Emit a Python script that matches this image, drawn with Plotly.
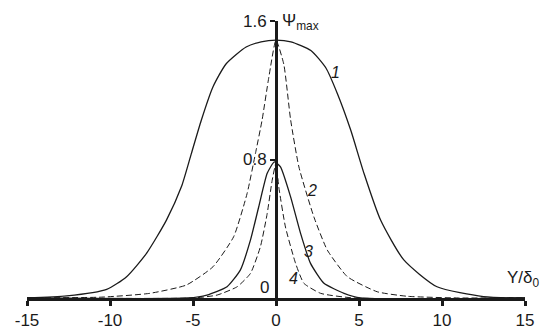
import plotly.graph_objects as go

# Curve 1 (solid, wide)
c1_x = [-15, -12.6, -10.2, -9.0, -7.8, -6.6, -5.7, -5.1, -4.5, -3.8, -3.0, -1.8, -0.9, 0,
        0.9, 2.1, 3.0, 3.7, 4.5, 5.3, 6.3, 7.7, 9.7, 12.5, 15]
c1_y = [0, 0.012, 0.05, 0.123, 0.258, 0.45, 0.642, 0.834, 1.027, 1.219, 1.353, 1.45, 1.48, 1.49,
        1.48, 1.43, 1.33, 1.18, 0.97, 0.72, 0.45, 0.22, 0.065, 0.008, 0]

# Curve 2 (dashed, tall narrow)
c2_x = [-15, -10.5, -7.6, -5.4, -3.8, -2.55, -1.74, -1.24, -0.84, -0.43, 0,
        0.47, 0.88, 1.38, 2.28, 3.09, 4.3, 6.1, 7.9, 11, 15]
c2_y = [0, 0.005, 0.027, 0.075, 0.18, 0.354, 0.604, 0.834, 1.027, 1.276, 1.49,
        1.35, 1.03, 0.757, 0.469, 0.277, 0.123, 0.036, 0.01, 0, 0]

# Curve 3 (solid, low)
c3_x = [-15, -5.3, -4.16, -2.95, -2.15, -1.54, -1.04, -0.53, -0.1,
        0.27, 0.88, 1.48, 2.08, 2.89, 4.1, 5.1, 15]
c3_y = [0, 0, 0.017, 0.065, 0.161, 0.334, 0.527, 0.72, 0.786,
        0.757, 0.584, 0.373, 0.2, 0.085, 0.027, 0, 0]

# Curve 4 (dashed, low narrow)
c4_x = [-15, -5, -3.55, -2.34, -1.54, -0.94, -0.53, -0.23, 0,
        0.17, 0.57, 1.18, 1.68, 2.69, 4.7, 15]
c4_y = [0, 0, 0.017, 0.065, 0.142, 0.296, 0.488, 0.68, 0.78,
        0.64, 0.41, 0.2, 0.085, 0.027, 0, 0]

x_ticks = [-15, -10, -5, 0, 5, 10, 15]
x_ticktext = ["-15", "-10", "-5", "0", "5", "10", "15"]
y_ticks = [0.8, 1.6]
y_ticktext = ["0.8", "1.6"]

curve_labels = ["1", "2", "3", "4"]
label_x = [3.6, 2.19, 1.98, 1.08]
label_y = [1.30, 0.623, 0.267, 0.114]

ink = "#1a1a1a"
font = "Arial, Liberation Sans, sans-serif"

fig = go.Figure()
fig.add_trace(go.Scatter(x=c1_x, y=c1_y, mode="lines", line=dict(color=ink, width=1.3, shape="spline", smoothing=0.6)))
fig.add_trace(go.Scatter(x=c2_x, y=c2_y, mode="lines", line=dict(color=ink, width=1, dash="6px,3px", shape="spline", smoothing=0.5)))
fig.add_trace(go.Scatter(x=c3_x, y=c3_y, mode="lines", line=dict(color=ink, width=1.3, shape="spline", smoothing=0.5)))
fig.add_trace(go.Scatter(x=c4_x, y=c4_y, mode="lines", line=dict(color=ink, width=1, dash="6px,3px", shape="spline", smoothing=0.5)))

for t, xx, yy in zip(curve_labels, label_x, label_y):
    fig.add_annotation(x=xx, y=yy, text="<i>%s</i>" % t, showarrow=False,
                       font=dict(size=16, color=ink, family=font))

fig.add_annotation(x=0, y=0, text="0", showarrow=False, xanchor="right", yanchor="bottom",
                   xshift=-5, yshift=-1, font=dict(size=17, color=ink, family=font))
fig.add_annotation(x=0, y=1.6, text="Ψ<sub>max</sub>", showarrow=False, xanchor="left",
                   yanchor="middle", xshift=4, yshift=-1, font=dict(size=17, color=ink, family=font))
fig.add_annotation(x=15, y=0, text="Y/δ<sub>0</sub>", showarrow=False, xanchor="right",
                   yanchor="bottom", xshift=17, yshift=6, font=dict(size=17, color=ink, family=font))

fig.update_layout(
    width=545, height=329,
    margin=dict(l=27, r=20, t=21, b=31, autoexpand=False),
    paper_bgcolor="white", plot_bgcolor="white",
    showlegend=False,
    font=dict(family=font, size=17, color=ink),
    xaxis=dict(range=[-15, 15], tickvals=x_ticks, ticktext=x_ticktext, showgrid=False,
               zeroline=False, automargin=False,
               showline=True, linecolor=ink, linewidth=2.5, ticks="outside",
               ticklen=5, tickwidth=2.5, tickcolor=ink, tickfont=dict(size=17)),
    yaxis=dict(range=[0, 1.6], tickvals=y_ticks, ticktext=y_ticktext, showgrid=False,
               automargin=False,
               zeroline=False, showline=True, linecolor=ink, linewidth=3,
               anchor="free", position=0.5, ticks="outside", ticklen=5, tickwidth=1.5,
               tickcolor=ink, tickfont=dict(size=17)),
)

fig.write_html("out.html", config={"displayModeBar": False},
               post_script="document.body.style.margin='0';document.body.style.overflow='hidden';")
